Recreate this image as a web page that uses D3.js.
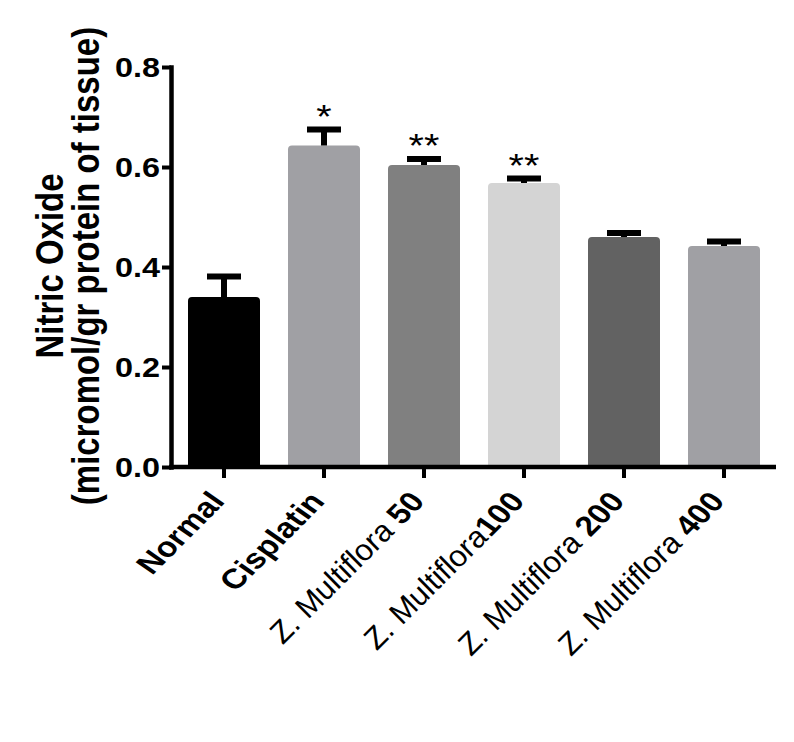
<!DOCTYPE html>
<html>
<head>
<meta charset="utf-8">
<script src="https://cdn.jsdelivr.net/npm/d3@7"></script>
<style>
  html, body { margin: 0; padding: 0; background: #fff; }
  svg { display: block; }
  text { font-family: "Liberation Sans", Arial, sans-serif; }
</style>
</head>
<body>
<svg id="chart" width="794" height="742"></svg>
<script>
// ---- data ----
const categories = ["Normal", "Cisplatin", "ZM50", "ZM100", "ZM200", "ZM400"];
const labelMain = ["Normal", "Cisplatin", "Z. Multiflora ", "Z. Multiflora", "Z. Multiflora ", "Z. Multiflora "];
const labelDose = ["", "", "50", "100", "200", "400"];
const means = [0.340, 0.643, 0.604, 0.568, 0.460, 0.442];
const sems  = [0.041, 0.032, 0.012, 0.009, 0.008, 0.009];
const stars = ["", "*", "**", "**", "", ""];
const barColors = ["#000000", "#a0a0a4", "#808080", "#d4d4d4", "#626262", "#a0a0a4"];
const yTicks = [0.0, 0.2, 0.4, 0.6, 0.8];
const yTitle1 = "Nitric Oxide";
const yTitle2 = "(micromol/gr protein of tissue)";

// ---- layout ----
const SX = 1.2; // horizontal glyph stretch of the reference
const svg = d3.select("#chart");
svg.append("rect").attr("width", 794).attr("height", 742).attr("fill", "#fff");

const axisX = 171, baseY = 467;
const x = d3.scaleBand().domain(categories).range([174, 774]).paddingInner(0.28).paddingOuter(0.14);
const y = d3.scaleLinear().domain([0, 0.8]).range([baseY, 67]);

const data = categories.map((c, i) => ({c, i, m: means[i], s: sems[i], star: stars[i], col: barColors[i]}));

// bars with rounded top corners
function barPath(x0, x1, yt, yb, r) {
  return `M${x0},${yb}V${yt + r}Q${x0},${yt} ${x0 + r},${yt}H${x1 - r}Q${x1},${yt} ${x1},${yt + r}V${yb}Z`;
}
svg.append("g").selectAll("path").data(data).join("path")
  .attr("d", d => barPath(x(d.c), x(d.c) + x.bandwidth(), y(d.m), baseY, 4))
  .attr("fill", d => d.col);

// error bars (upper only)
const eg = svg.append("g").attr("stroke", "#000").attr("stroke-width", 6);
eg.selectAll("line.stem").data(data).join("line").attr("class", "stem")
  .attr("x1", d => x(d.c) + x.bandwidth() / 2).attr("x2", d => x(d.c) + x.bandwidth() / 2)
  .attr("y1", d => y(d.m)).attr("y2", d => y(d.m + d.s));
eg.selectAll("line.cap").data(data).join("line").attr("class", "cap")
  .attr("x1", d => x(d.c) + x.bandwidth() / 2 - 17).attr("x2", d => x(d.c) + x.bandwidth() / 2 + 17)
  .attr("y1", d => y(d.m + d.s)).attr("y2", d => y(d.m + d.s));

// significance stars
svg.append("g").selectAll("text").data(data.filter(d => d.star)).join("text")
  .attr("transform", d => `translate(${x(d.c) + x.bandwidth() / 2},${y(d.m + d.s) - 2}) scale(${SX},1)`)
  .attr("text-anchor", "middle").attr("font-size", 33)
  .text(d => d.star);

// y axis
const yAxis = d3.axisLeft(y).tickValues(yTicks).tickSize(9).tickSizeOuter(0).tickFormat(d3.format(".1f"));
const yg = svg.append("g").attr("transform", `translate(${axisX},0)`).call(yAxis);
yg.select(".domain").attr("stroke-width", 4.5).attr("stroke-linecap", "square");
yg.selectAll(".tick line").attr("stroke-width", 4);
yg.selectAll(".tick text")
  .attr("x", null).attr("dy", null)
  .attr("transform", `translate(-11,0) scale(${SX},1)`)
  .attr("dy", "0.36em")
  .attr("font-size", 27).attr("font-weight", "bold").attr("fill", "#000")
  .attr("font-family", "Liberation Sans, Arial, sans-serif");

// x axis
const xAxis = d3.axisBottom(x).tickSize(11).tickSizeOuter(0).tickFormat("");
const xg = svg.append("g").attr("transform", `translate(0,${baseY})`).call(xAxis);
xg.select(".domain").remove();
xg.selectAll(".tick line").attr("stroke-width", 4);
svg.append("line").attr("x1", axisX - 2).attr("x2", 776).attr("y1", baseY).attr("y2", baseY)
  .attr("stroke", "#000").attr("stroke-width", 4.5);

// x labels
const ANG = Math.atan(SX) * 180 / Math.PI; // visual 45 deg after stretch
const lg = svg.append("g");
data.forEach(d => {
  const t = lg.append("text")
    .attr("transform", `translate(${x(d.c) + x.bandwidth() / 2 + 2},${baseY + 35}) scale(${SX},1) rotate(${-ANG})`)
    .attr("text-anchor", "end").attr("font-size", 28);
  if (labelDose[d.i]) {
    t.append("tspan").attr("font-style", "italic").text(labelMain[d.i]);
    t.append("tspan").attr("font-weight", "bold").text(labelDose[d.i]);
  } else {
    t.append("tspan").attr("font-weight", "bold").text(labelMain[d.i]);
  }
});

// y title
const tg = svg.append("g").attr("font-weight", "bold").attr("font-size", 33).attr("text-anchor", "middle");
tg.append("text").attr("transform", `translate(63,266) scale(${SX},1) rotate(-90)`).text(yTitle1);
tg.append("text").attr("transform", `translate(99,266) scale(${SX},1) rotate(-90)`).text(yTitle2);
</script>
</body>
</html>
